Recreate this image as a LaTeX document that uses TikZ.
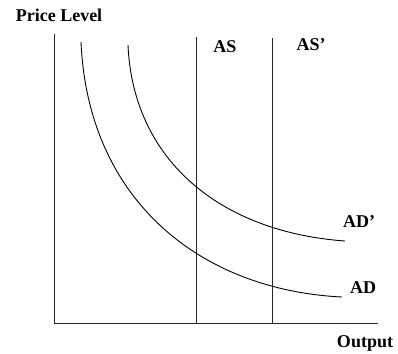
\documentclass[tikz,border=0pt]{standalone}
\usepackage{fontspec}
\setmainfont{Liberation Serif}
\begin{document}
\begin{tikzpicture}[x=1pt,y=-1pt,
  axis/.style={line width=0.9pt, draw=black!85},
  curve/.style={line width=0.9pt, draw=black},
  lbl/.style={font=\fontsize{18}{20}\selectfont\bfseries, inner sep=0pt}]
\useasboundingbox (0,0) rectangle (398,353);
\coordinate (ytop) at (54,34);
\coordinate (orig) at (54,323);
\coordinate (xend) at (378,323);
\coordinate (astop) at (196,37);
\coordinate (asbot) at (196,323);
\coordinate (aspt) at (272,38);
\coordinate (aspb) at (272,323);
\coordinate (ads) at (81,42);
\coordinate (ade) at (342,297);
\coordinate (adps) at (128,45);
\coordinate (adpe) at (345,241);
\draw[axis] (ytop) -- (orig) -- (xend);
\draw[axis] (astop) -- (asbot);
\draw[axis] (aspt) -- (aspb);
\draw[curve] (ads) .. controls (88,200) and (200,290) .. (ade);
\draw[curve] (adps) .. controls (133,160) and (220,232) .. (adpe);
\node[lbl] (pl) at (59,15) {Price Level};
\node[lbl] (out) at (365,343) {Output};
\node[lbl] (as) at (225,47) {AS};
\node[lbl] (asp) at (311,45) {AS’};
\node[lbl] (adp) at (359,222) {AD’};
\node[lbl] (ad) at (363,288) {AD};
\end{tikzpicture}
\end{document}
